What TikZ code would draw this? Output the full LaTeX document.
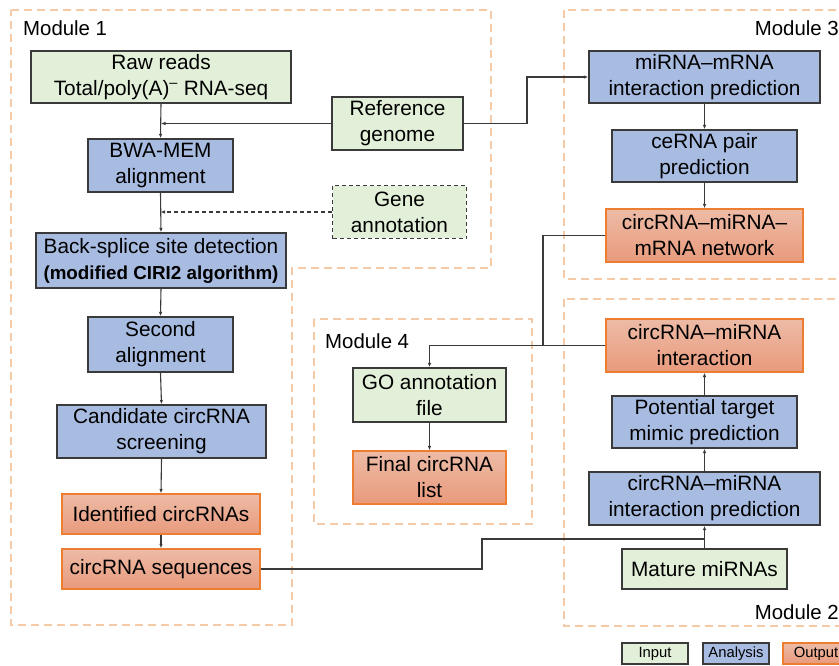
\documentclass[tikz,border=0pt]{standalone}
\usepackage{fontspec}
\setmainfont{Liberation Sans}
\usetikzlibrary{arrows.meta}
\definecolor{ingreen}{HTML}{E2F0D9}
\definecolor{anblue}{HTML}{A8BCE2}
\definecolor{boxline}{HTML}{3A3A3A}
\definecolor{outline}{HTML}{ED7D31}
\definecolor{outtop}{HTML}{EDBBA6}
\definecolor{outbot}{HTML}{E99A7C}
\definecolor{modline}{HTML}{F5CBA7}
\tikzset{
  base/.style={align=center, inner sep=0pt, font=\fontsize{20.8}{26}\selectfont},
  inbox/.style={base, draw=boxline, line width=1.3pt, fill=ingreen},
  anbox/.style={base, draw=boxline, line width=1.3pt, fill=anblue},
  outbox/.style={base, draw=outline, line width=1.2pt, top color=outtop, bottom color=outbot},
  modbox/.style={draw=modline, line width=2.6pt, dash pattern=on 8pt off 5pt},
  modlabel/.style={font=\fontsize{20.4}{24}\selectfont, inner sep=0pt},
  conn/.style={draw=boxline, line width=1.1pt},
  arr/.style={conn, -{Latex[length=4.5pt,width=3.5pt]}},
  legbox/.style={draw=boxline, line width=1.3pt, inner sep=0pt, minimum width=66, minimum height=21, font=\fontsize{14.8}{16}\selectfont}
}
\begin{document}
\begin{tikzpicture}[x=1pt,y=-1pt]
\clip (0,0) rectangle (839,665);
\fill[white] (0,0) rectangle (839,665);
% modules
\draw[modbox] (11,10) -- (491,10) -- (491,268) -- (292,268) -- (292,625) -- (11,625) -- cycle;
\draw[modbox] (564,10) rectangle (860,279);
\draw[modbox] (564,299) rectangle (860,626);
\draw[modbox] (314,319) rectangle (532,524);
\node[modlabel, anchor=west] (m1) at (23,28) {Module 1};
\node[modlabel, anchor=east] (m3) at (839,28) {Module 3};
\node[modlabel, anchor=west] (m4) at (325,341) {Module 4};
\node[modlabel, anchor=east] (m2) at (839,612) {Module 2};
% module 1
\node[inbox, minimum width=260, minimum height=52] (raw) at (161,77) {Raw reads\\Total/poly(A)\textsuperscript{\textendash} RNA-seq};
\node[inbox, minimum width=131, minimum height=53] (ref) at (397.5,123.5) {Reference\\genome};
\node[anbox, minimum width=145, minimum height=53] (bwa) at (160.5,165.5) {BWA-MEM\\alignment};
\node[inbox, draw=none, minimum width=133, minimum height=52] (gene) at (399.5,212) {Gene\\annotation};
\draw[boxline, line width=1.3pt, dash pattern=on 4pt off 3pt] (gene.south west) rectangle (gene.north east);
\node[anbox, minimum width=250, minimum height=55] (bss) at (161,260.5) {Back-splice site detection\\{\fontsize{18.8}{22}\selectfont\bfseries (modified CIRI2 algorithm)}};
\node[anbox, minimum width=145, minimum height=55] (sec) at (160.5,344.5) {Second\\alignment};
\node[anbox, minimum width=209, minimum height=53] (cand) at (161.5,431.5) {Candidate circRNA\\screening};
\node[outbox, minimum width=198, minimum height=40] (ident) at (161,514) {Identified circRNAs};
\node[outbox, minimum width=198, minimum height=40] (seq) at (161,569) {circRNA sequences};
% module 3
\node[anbox, minimum width=231, minimum height=52] (mm) at (704.5,77) {miRNA\textendash mRNA\\interaction prediction};
\node[anbox, minimum width=185, minimum height=52] (ce) at (704.5,156) {ceRNA pair\\prediction};
\node[outbox, minimum width=197, minimum height=53] (net) at (704.5,235.5) {circRNA\textendash miRNA\textendash\\mRNA network};
% module 2
\node[outbox, minimum width=197, minimum height=53] (inter) at (704.5,345.5) {circRNA\textendash miRNA\\interaction};
\node[anbox, minimum width=185, minimum height=52] (pot) at (704.5,422) {Potential target\\mimic prediction};
\node[anbox, minimum width=231, minimum height=53] (pred) at (704.5,498.5) {circRNA\textendash miRNA\\interaction prediction};
\node[inbox, minimum width=165, minimum height=40] (mat) at (704.5,569) {Mature miRNAs};
% module 4
\node[inbox, minimum width=153, minimum height=54] (go) at (429.5,395) {GO annotation\\file};
\node[outbox, minimum width=153, minimum height=53] (fin) at (429.5,477.5) {Final circRNA\\list};
% legend
\node[legbox, fill=ingreen] (lin) at (655,653.5) {Input};
\node[legbox, fill=anblue] (lan) at (736,653.5) {Analysis};
\node[legbox, draw=outline, top color=outtop, bottom color=outbot] (lout) at (816,653.5) {Output};
% connectors module 1
\coordinate (j1) at (raw.south |- ref.west);
\coordinate (j2) at (bwa.south |- gene.west);
\draw[arr] (raw.south) -- (bwa.north);
\draw[arr] (ref.west) -- (j1);
\coordinate (k1) at (527,123.5);
\draw[arr] (ref.east) -- (k1) |- (mm.west);
\draw[arr] (bwa.south) -- (bss.north);
\draw[arr, dash pattern=on 4pt off 3pt] (gene.west) -- (j2);
\draw[arr] (bss.south) -- (sec.north);
\draw[arr] (sec.south) -- (cand.north);
\draw[arr] (cand.south) -- (ident.north);
\draw[arr] (ident.south) -- (seq.north);
% module 3
\draw[arr] (mm.south) -- (ce.north);
\draw[arr] (ce.south) -- (net.north);
% module 2
\coordinate (s1) at (482,569);
\coordinate (s2) at (482,539);
\draw[conn] (seq.east) -- (s1) -- (s2) -- (pred.south |- s2);
\draw[arr] (mat.north) -- (pred.south);
\draw[arr] (pred.north) -- (pot.south);
\draw[arr] (pot.north) -- (inter.south);
% to module 4
\coordinate (n1) at (543,345.5);
\draw[conn] (net.west) -| (n1);
\draw[arr] (inter.west) -| (go.north);
\draw[arr] (go.south) -- (fin.north);
\end{tikzpicture}
\end{document}
